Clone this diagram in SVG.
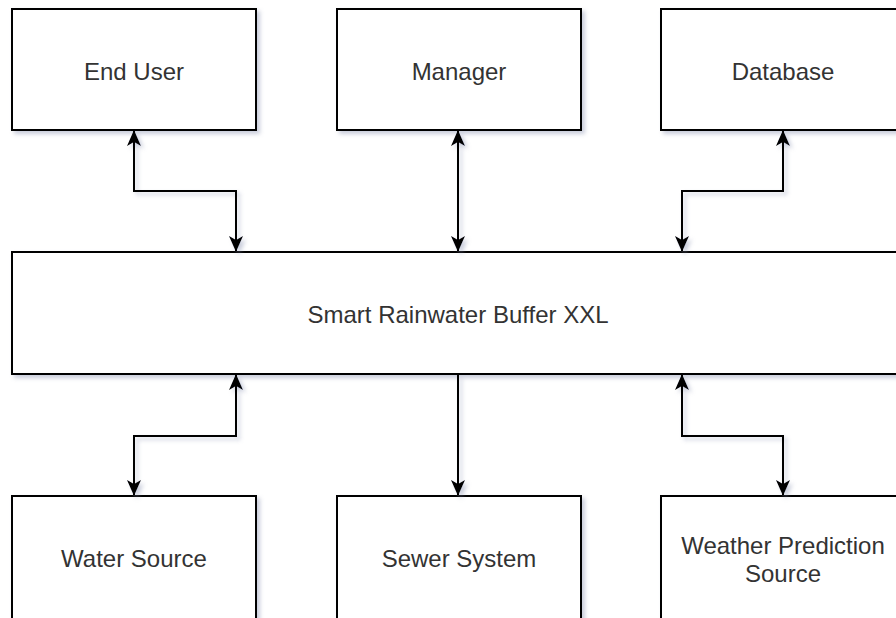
<svg xmlns="http://www.w3.org/2000/svg" width="896" height="618" viewBox="0 0 896 618">
<defs>
<filter id="sh" x="-10%" y="-10%" width="130%" height="130%">
<feDropShadow dx="3" dy="3" stdDeviation="2" flood-color="#8890b0" flood-opacity="0.45"/>
</filter>
<filter id="shc" filterUnits="userSpaceOnUse" x="0" y="0" width="896" height="618">
<feDropShadow dx="3" dy="3" stdDeviation="2" flood-color="#8890b0" flood-opacity="0.45"/>
</filter>
<marker id="ah" viewBox="0 0 16 16" refX="15" refY="8" markerWidth="16" markerHeight="16" markerUnits="userSpaceOnUse" orient="auto-start-reverse">
<path d="M0,1 L16,8 L0,15 L4,8 Z" fill="#000"/>
</marker>
<style>
.box{fill:#fff;stroke:#000;stroke-width:2;filter:url(#sh)}
.lbl{font-family:"Liberation Sans",Arial,sans-serif;font-size:24px;fill:#333;text-anchor:middle;dominant-baseline:central}
.c{fill:none;stroke:#000;stroke-width:2;filter:url(#shc)}
</style>
</defs>
<rect width="896" height="618" fill="#fff"/>
<g id="end-user"><rect class="box" x="12" y="9" width="244" height="121"/><text class="lbl" x="134" y="71">End User</text></g>
<g id="manager"><rect class="box" x="337" y="9" width="244" height="121"/><text class="lbl" x="459" y="71">Manager</text></g>
<g id="database"><rect class="box" x="661" y="9" width="250" height="121"/><text class="lbl" x="783" y="71">Database</text></g>
<g id="buffer"><rect class="box" x="12" y="252" width="900" height="122"/><text class="lbl" x="458" y="314">Smart Rainwater Buffer XXL</text></g>
<g id="water-source"><rect class="box" x="12" y="496" width="244" height="130"/><text class="lbl" x="134" y="558">Water Source</text></g>
<g id="sewer-system"><rect class="box" x="337" y="496" width="244" height="130"/><text class="lbl" x="459" y="558">Sewer System</text></g>
<g id="weather"><rect class="box" x="661" y="496" width="250" height="130"/><text class="lbl" x="783" y="545">Weather Prediction</text><text class="lbl" x="783" y="573">Source</text></g>
<g id="connectors">
<path class="c" d="M134,131 V191 H236 V251" marker-start="url(#ah)" marker-end="url(#ah)"/>
<path class="c" d="M458,131 V251" marker-start="url(#ah)" marker-end="url(#ah)"/>
<path class="c" d="M783,131 V191 H682 V251" marker-start="url(#ah)" marker-end="url(#ah)"/>
<path class="c" d="M236,375 V436 H134 V495" marker-start="url(#ah)" marker-end="url(#ah)"/>
<path class="c" d="M458,375 V495" marker-end="url(#ah)"/>
<path class="c" d="M682,375 V436 H783 V495" marker-start="url(#ah)" marker-end="url(#ah)"/>
</g>
</svg>
